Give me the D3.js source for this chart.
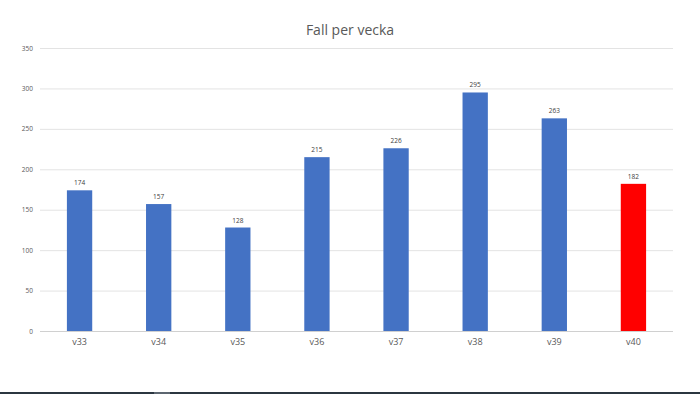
<!DOCTYPE html>
<html>
<head>
<meta charset="utf-8">
<script src="https://cdn.jsdelivr.net/npm/d3@7"></script>
<style>
  body { margin: 0; background: #fff; }
  text { font-family: "Open Sans", "Noto Sans", sans-serif; }
</style>
</head>
<body>
<div id="chart"></div>
<script>
// Chart data
var weeks = ["v33", "v34", "v35", "v36", "v37", "v38", "v39", "v40"];
var cases = [174, 157, 128, 215, 226, 295, 263, 182];
var yTicks = [0, 50, 100, 150, 200, 250, 300, 350];

var svgWidth = 700;
var svgHeight = 394;

var margin = { top: 48, right: 27, bottom: 63, left: 40 };
var chartWidth = svgWidth - margin.left - margin.right;
var chartHeight = svgHeight - margin.top - margin.bottom;

var svg = d3.select("#chart")
  .append("svg")
  .attr("width", svgWidth)
  .attr("height", svgHeight);

// Title
svg.append("text")
  .attr("x", svgWidth / 2)
  .attr("y", 35)
  .attr("text-anchor", "middle")
  .attr("font-size", "14px")
  .attr("fill", "#595959")
  .text("Fall per vecka");

var chartGroup = svg.append("g")
  .attr("transform", `translate(${margin.left}, ${margin.top})`);

var xScale = d3.scaleBand()
  .domain(weeks)
  .range([0, chartWidth])
  .paddingInner(0.68)
  .paddingOuter(0.34);

var yScale = d3.scaleLinear()
  .domain([0, 350])
  .range([chartHeight, 0]);

// Gridlines
chartGroup.selectAll(".grid")
  .data(yTicks)
  .enter()
  .append("line")
  .attr("x1", 0)
  .attr("x2", chartWidth)
  .attr("y1", d => yScale(d) + 0.5)
  .attr("y2", d => yScale(d) + 0.5)
  .attr("stroke", d => d === 0 ? "#d0d0d0" : "#e3e3e3")
  .attr("stroke-width", 1);

// Left axis labels
var leftAxis = d3.axisLeft(yScale).tickValues(yTicks).tickSize(0).tickPadding(7);
var yAxisG = chartGroup.append("g").call(leftAxis);
yAxisG.select(".domain").remove();
yAxisG.selectAll("text")
  .attr("font-size", "6.5px")
  .attr("fill", "#595959")
  .attr("font-family", "Open Sans, sans-serif");

// Bottom axis labels
var bottomAxis = d3.axisBottom(xScale).tickSize(0).tickPadding(8);
var xAxisG = chartGroup.append("g")
  .attr("transform", `translate(0, ${chartHeight})`)
  .call(bottomAxis);
xAxisG.select(".domain").remove();
xAxisG.selectAll("text")
  .attr("font-size", "9px")
  .attr("fill", "#595959")
  .attr("font-family", "Open Sans, sans-serif");

// Bars
chartGroup.selectAll("rect.bar")
  .data(cases)
  .enter()
  .append("rect")
  .attr("class", "bar")
  .attr("x", (d, i) => xScale(weeks[i]))
  .attr("y", d => yScale(d))
  .attr("width", xScale.bandwidth())
  .attr("height", d => chartHeight - yScale(d))
  .attr("fill", (d, i) => i === weeks.length - 1 ? "#ff0000" : "#4472c4");

// Value labels
chartGroup.selectAll("text.val")
  .data(cases)
  .enter()
  .append("text")
  .attr("class", "val")
  .attr("x", (d, i) => xScale(weeks[i]) + xScale.bandwidth() / 2)
  .attr("y", d => yScale(d) - 5)
  .attr("text-anchor", "middle")
  .attr("font-size", "6.5px")
  .attr("fill", "#404040")
  .text(d => d);

// Window taskbar strip at the bottom
svg.append("rect")
  .attr("x", 0).attr("y", 392)
  .attr("width", svgWidth).attr("height", 2)
  .attr("fill", "#2b3640");
svg.append("rect")
  .attr("x", 154).attr("y", 392)
  .attr("width", 16).attr("height", 2)
  .attr("fill", "#5c6670");
</script>
</body>
</html>
